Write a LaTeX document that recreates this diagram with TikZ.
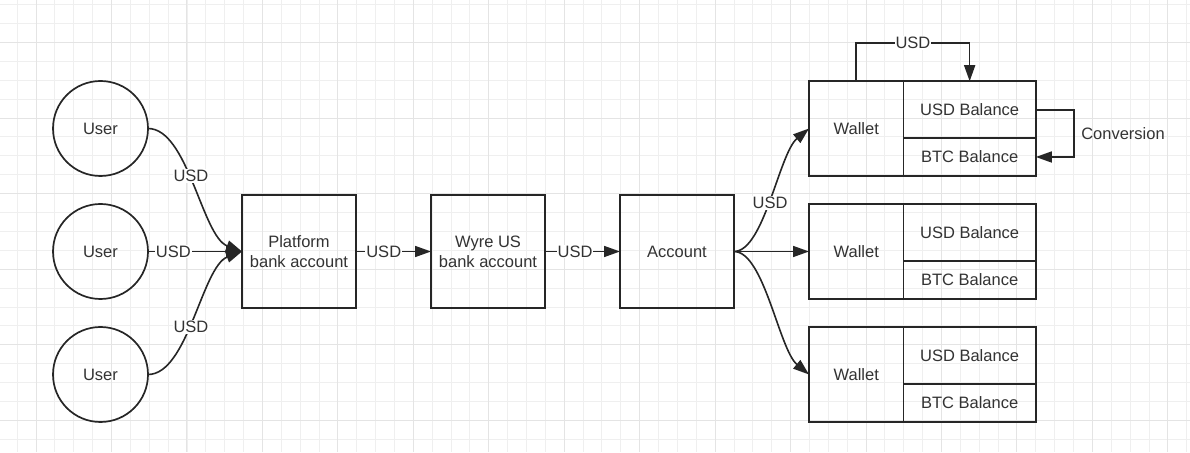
\documentclass[tikz,border=0pt]{standalone}
\usepackage{fontspec}
\setmainfont{Liberation Sans}
\usetikzlibrary{positioning,arrows.meta}
\definecolor{ink}{HTML}{333333}
\definecolor{edge}{HTML}{262626}
\definecolor{gridmin}{HTML}{EFEFEF}
\definecolor{gridmaj}{HTML}{E4E4E4}

\begin{document}
\begin{tikzpicture}[x=1pt,y=1pt,node distance=75pt,
  >={Triangle[length=16pt,width=11pt]},
  font=\fontsize{16.5}{20}\selectfont]
\tikzstyle{user}=[draw=edge,circle,minimum size=95pt,line width=1.7pt,outer sep=0pt,text=ink]
\tikzstyle{bank}=[draw=edge,rectangle,minimum width=114pt,minimum height=113pt,line width=1.7pt,outer sep=0pt,align=center,text=ink]
\tikzstyle{wallet}=[draw=edge,rectangle,minimum width=94.5pt,minimum height=94.5pt,line width=1.7pt,outer sep=0pt,text=ink]
\tikzstyle{usdbal}=[draw=edge,rectangle,minimum width=132.3pt,minimum height=57pt,line width=1.7pt,outer sep=0pt,text=ink,anchor=north west]
\tikzstyle{btcbal}=[draw=edge,rectangle,minimum width=132.3pt,minimum height=37.5pt,line width=1.7pt,outer sep=0pt,text=ink,anchor=north west]
\tikzstyle{flow}=[draw=edge,line width=1.6pt]
\tikzstyle{lbl}=[fill=white,inner sep=1pt,text=ink]
\useasboundingbox (0,0) rectangle (1190,452);
\fill[white] (0,0) rectangle (1190,452);
% grid
\foreach \k in {-1,...,61}
  \draw[gridmin,line width=0.8pt] ({36+18.8625*\k},0) -- ({36+18.8625*\k},452);
\foreach \k in {-2,...,21}
  \draw[gridmin,line width=0.8pt] (0,{409.6-18.9*\k}) -- (1190,{409.6-18.9*\k});
\foreach \k in {0,4,...,60}
  \draw[gridmaj,line width=0.9pt] ({36+18.8625*\k},0) -- ({36+18.8625*\k},452);
\foreach \k in {0,4,...,20}
  \draw[gridmaj,line width=0.9pt] (0,{409.6-18.9*\k}) -- (1190,{409.6-18.9*\k});
% main chain
\node [bank] (plat) at (299,200.5) {Platform\\bank account};
\node [bank,right=of plat] (wyre) {Wyre US\\bank account};
\node [bank,right=of wyre] (acct) {Account};
\node [user,left=94pt of plat] (user2) {User};
\node [user,above=28pt of user2] (user1) {User};
\node [user,below=28pt of user2] (user3) {User};
% wallets
\node [wallet,right=of acct] (w2) {Wallet};
\node [wallet,above=28.5pt of w2] (w1) {Wallet};
\node [wallet,below=28.5pt of w2] (w3) {Wallet};
\node [usdbal] (usd1) at (w1.north east) {USD Balance};
\node [btcbal] (btc1) at (usd1.south west) {BTC Balance};
\node [usdbal] (usd2) at (w2.north east) {USD Balance};
\node [btcbal] (btc2) at (usd2.south west) {BTC Balance};
\node [usdbal] (usd3) at (w3.north east) {USD Balance};
\node [btcbal] (btc3) at (usd3.south west) {BTC Balance};
% connectors
\draw[flow,->] (user1.east) .. controls +(40,0) and +(-40,15) .. node[lbl,pos=0.45] {USD} (plat.west);
\draw[flow,->] (user2.east) -- node[lbl,pos=0.27] {USD} (plat.west);
\draw[flow,->] (user3.east) .. controls +(40,0) and +(-40,-15) .. node[lbl,pos=0.45] {USD} (plat.west);
\draw[flow,->] (plat.east) -- node[lbl,pos=0.37] {USD} (wyre.west);
\draw[flow,->] (wyre.east) -- node[lbl,pos=0.4] {USD} (acct.west);
\draw[flow,->] (acct.east) .. controls +(30,0) and +(-30,-25) .. node[lbl,pos=0.48] {USD} (w1.west);
\draw[flow,->] (acct.east) -- (w2.west);
\draw[flow,->] (acct.east) .. controls +(30,0) and +(-30,25) .. (w3.west);
\draw[flow,->] (w1.north) -- ++(0,38.3) -| node[lbl,pos=0.25] {USD} (usd1.north);
\draw[flow,->] (usd1.east) -- ++(38.3,0) |- node[pos=0.25,right,xshift=3pt,text=ink] {Conversion} (btc1.east);
\end{tikzpicture}
\end{document}
